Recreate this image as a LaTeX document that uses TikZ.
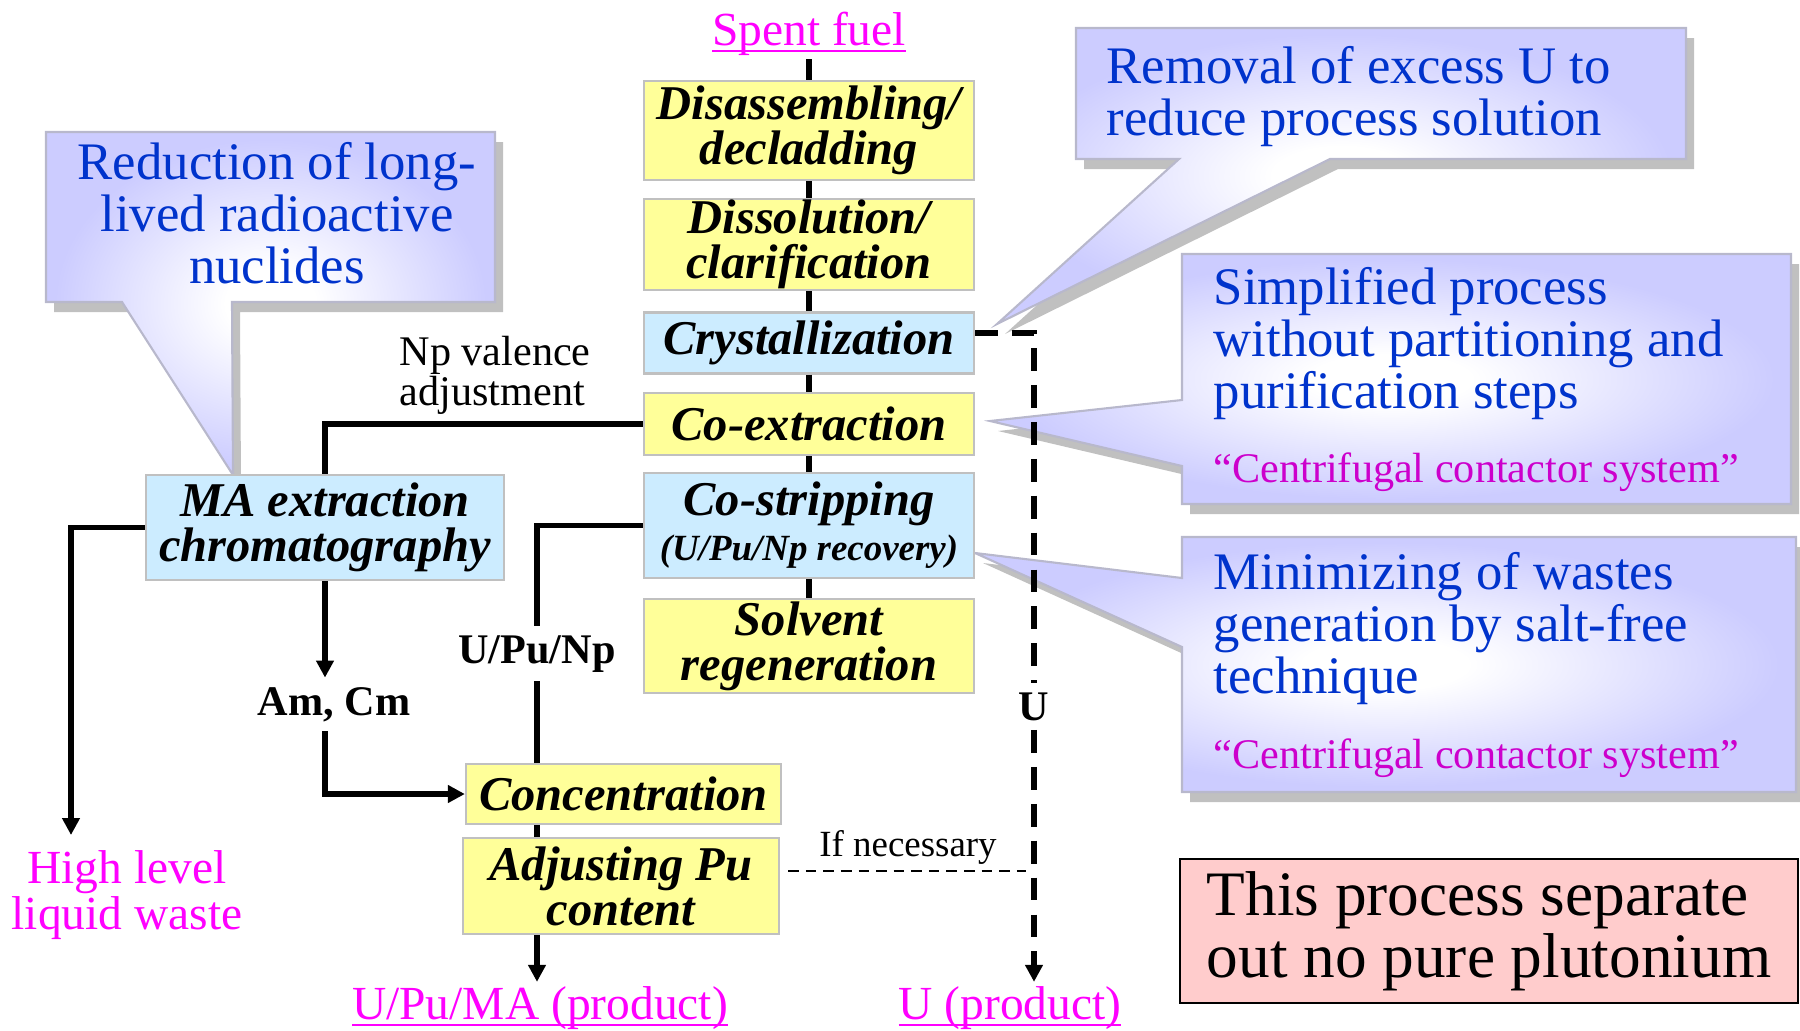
\documentclass[tikz,border=0pt]{standalone}
\usepackage{fontspec}
\setmainfont{Liberation Serif}
\usetikzlibrary{arrows.meta}

\definecolor{boxyellow}{HTML}{FFFF99}
\definecolor{boxblue}{HTML}{CCECFF}
\definecolor{calloutlav}{HTML}{CCCCFF}
\definecolor{calloutedge}{HTML}{B8B8CC}
\definecolor{callouttxt}{HTML}{0033CC}
\definecolor{titlemag}{HTML}{FF00FF}
\definecolor{quotemag}{HTML}{CC00CC}
\definecolor{notepink}{HTML}{FFCCCC}
\definecolor{shadowgray}{HTML}{C0C0C0}

\newsavebox\ulbox
\newcommand{\undl}[1]{\sbox\ulbox{#1}\rlap{\usebox\ulbox}\rule[-2pt]{\wd\ulbox}{0.7pt}}

\pgfdeclareradialshading{calloutshade}{\pgfpoint{0bp}{0bp}}{color(0bp)=(white); color(5bp)=(white); color(24bp)=(calloutlav); color(50bp)=(calloutlav)}

\tikzset{
  stepbox/.style={draw=shadowgray, line width=0.6pt, minimum width=3.30cm, inner sep=0pt, align=center,
    font=\bfseries\itshape\fontsize{13.8}{12.8}\selectfont},
  yellowbox/.style={stepbox, fill=boxyellow},
  bluebox/.style={stepbox, fill=boxblue},
  flow/.style={line width=1.5pt},
  arrowflow/.style={flow, -{Triangle[length=4.8pt, width=4.8pt]}},
  dashflow/.style={line width=1.5pt, dash pattern=on 6.5pt off 4pt},
  dasharrow/.style={dashflow, -{Triangle[length=4.8pt, width=4.8pt]}},
  thindash/.style={line width=0.6pt, dash pattern=on 3pt off 2pt},
  titletext/.style={text=titlemag, inner sep=1pt, font=\fontsize{13.5}{13}\selectfont},
  labeltext/.style={inner sep=2.5pt, font=\bfseries\fontsize{12}{12}\selectfont},
  smalltext/.style={inner sep=0pt, font=\fontsize{12}{11.3}\selectfont},
  callouttext/.style={text=callouttxt, inner sep=0pt, font=\fontsize{15}{14.7}\selectfont},
  quotetext/.style={text=quotemag, inner sep=0pt, font=\fontsize{12}{12}\selectfont},
  calloutshape/.style={shading=calloutshade, draw=calloutedge, line width=0.6pt},
  calloutshadow/.style={fill=shadowgray, shift={(8,10)}},
  notebox/.style={draw=black, line width=0.6pt, fill=notepink, minimum width=6.18cm, minimum height=1.44cm,
    align=left, font=\fontsize{18}{17.6}\selectfont}
}

\begin{document}
\begin{tikzpicture}[x=0.01cm, y=-0.01cm]
    \useasboundingbox (0,0) rectangle (1800,1030);

    \fill[calloutshadow] (46,132) -- (495,132) -- (495,302) -- (232,302) -- (233,475) -- (122,302) -- (46,302) -- cycle;
    \shadedraw[calloutshape] (46,132) -- (495,132) -- (495,302) -- (232,302) -- (233,475) -- (122,302) -- (46,302) -- cycle;

    \fill[calloutshadow] (1076,28) -- (1686,28) -- (1686,159) -- (1330,159) -- (997,324) -- (1179,159) -- (1076,159) -- cycle;
    \shadedraw[calloutshape] (1076,28) -- (1686,28) -- (1686,159) -- (1330,159) -- (997,324) -- (1179,159) -- (1076,159) -- cycle;

    \fill[calloutshadow] (1182,254) -- (1791,254) -- (1791,504) -- (1182,504) -- (1182,466) -- (990,421) -- (1182,400) -- cycle;
    \shadedraw[calloutshape] (1182,254) -- (1791,254) -- (1791,504) -- (1182,504) -- (1182,466) -- (990,421) -- (1182,400) -- cycle;

    \fill[calloutshadow] (1182,537) -- (1796,537) -- (1796,792) -- (1182,792) -- (1182,647) -- (975,553) -- (1182,578) -- cycle;
    \shadedraw[calloutshape] (1182,537) -- (1796,537) -- (1796,792) -- (1182,792) -- (1182,647) -- (975,553) -- (1182,578) -- cycle;

    \node[callouttext, anchor=base, align=center] (redtxt) at (277,283) {Reduction of long-\\lived radioactive\\nuclides};
    \node[callouttext, anchor=base west, align=left] (remtxt) at (1106,135) {Removal of excess U to\\reduce process solution};
    \node[callouttext, anchor=base west, align=left] (simtxt) at (1213,408) {Simplified process\\without partitioning and\\purification steps};
    \node[quotetext, anchor=base west] (simquote) at (1213,482) {``Centrifugal contactor system''};
    \node[callouttext, anchor=base west, align=left] (mintxt) at (1213,693) {Minimizing of wastes\\generation by salt-free\\technique};
    \node[quotetext, anchor=base west] (minquote) at (1213,768) {``Centrifugal contactor system''};

    \node[titletext, anchor=base] (spent) at (809,45) {\undl{Spent fuel}};
    \node[yellowbox, minimum height=0.99cm] (dis) at (809,130.5) {Disassembling/\\decladding};
    \node[yellowbox, minimum height=0.91cm] (diss) at (809,244.5) {Dissolution/\\clarification};
    \node[bluebox, minimum height=0.61cm] (cryst) at (809,343) {Crystallization};
    \node[yellowbox, minimum height=0.62cm] (coext) at (809,424) {Co-extraction};
    \node[bluebox, minimum height=1.05cm] (costrip) at (809,525.5) {Co-stripping\\{\fontsize{10.5}{12}\selectfont (U/Pu/Np recovery)}};
    \node[yellowbox, minimum height=0.94cm] (solv) at (809,646) {Solvent\\regeneration};

    \node[bluebox, minimum width=3.58cm, minimum height=1.05cm] (maext) at (325,527.5) {MA extraction\\chromatography};
    \node[yellowbox, minimum width=3.15cm, minimum height=0.60cm] (conc) at (623.5,794) {Concentration};
    \node[yellowbox, minimum width=3.16cm, minimum height=0.96cm] (adj) at (621,886) {Adjusting Pu\\content};

    \node[smalltext, anchor=base west, align=left] (npval) at (399,405) {Np valence\\adjustment};
    \node[labeltext, anchor=base] (amcm) at (334,715) {Am, Cm};
    \node[labeltext, anchor=base] (upnp) at (537,663) {U/Pu/Np};
    \node[labeltext, anchor=base] (ulab) at (1034,720) {U};
    \node[smalltext, anchor=base, font=\fontsize{10.5}{11}\selectfont] (ifnlab) at (908,856) {If necessary};

    \node[titletext, anchor=base, align=center, font=\fontsize{13.5}{13}\selectfont] (hlw) at (127,929) {High level\\liquid waste};
    \node[titletext, anchor=base] (pumaprod) at (540,1019) {\undl{U/Pu/MA (product)}};
    \node[titletext, anchor=base] (uprod) at (1010,1019) {\undl{U (product)}};

    \node[notebox] (note) at (1489,931) {This process separate\\out no pure plutonium};

    \coordinate (hlwend) at (71,835);
    \coordinate (ucorner) at (1034,333);
    \coordinate (ifnec) at (1026,871);

    \draw[flow] (spent) -- (dis) -- (diss) -- (cryst) -- (coext) -- (costrip) -- (solv);
    \draw[flow] (coext.west) -| (maext.north);
    \draw[arrowflow] (maext.west) -| (hlwend);
    \draw[arrowflow] (maext.south) -- (maext.south |- amcm.north);
    \draw[arrowflow] (maext.south |- amcm.south) |- (conc.west);
    \draw[flow] (costrip.west) -| (upnp.north);
    \draw[flow] (upnp.south) -- (upnp.south |- conc.north);
    \draw[flow] (upnp |- conc.south) -- (upnp |- adj.north);
    \draw[arrowflow] (upnp |- adj.south) -- (upnp |- pumaprod.north);
    \draw[dashflow] (cryst.east |- ucorner) -- (ucorner) -- (ulab.north);
    \draw[dasharrow] (ulab.south) -- (ulab |- uprod.north);
    \draw[thindash, shorten <=2.3pt] (adj.east |- ifnec) -- (ifnec);
\end{tikzpicture}
\end{document}
